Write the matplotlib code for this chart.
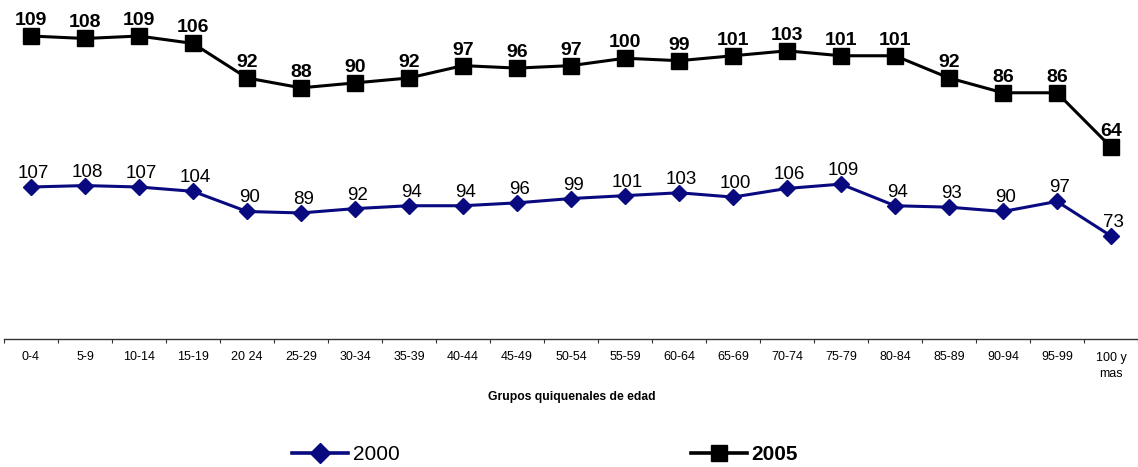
import matplotlib
matplotlib.use("Agg")
import matplotlib.pyplot as plt
from matplotlib.lines import Line2D

categories = ["0-4", "5-9", "10-14", "15-19", "20 24", "25-29", "30-34", "35-39",
              "40-44", "45-49", "50-54", "55-59", "60-64", "65-69", "70-74", "75-79",
              "80-84", "85-89", "90-94", "95-99", "100 y\nmas"]
values_2000 = [107, 108, 107, 104, 90, 89, 92, 94, 94, 96, 99, 101, 103, 100, 106, 109,
               94, 93, 90, 97, 73]
values_2005 = [109, 108, 109, 106, 92, 88, 90, 92, 97, 96, 97, 100, 99, 101, 103, 101,
               101, 92, 86, 86, 64]
x_label = "Grupos quiquenales de edad"
series_names = ["2000", "2005"]

plt.rcParams['font.family'] = ['Liberation Sans', 'DejaVu Sans']

W, H = 1138, 467
fig = plt.figure(figsize=(W / 100, H / 100), dpi=100)
ax = fig.add_axes([4 / W, 1 - 339 / H, 1 - 4 / W, 339 / H])
ax2 = ax.twinx()

blue = '#0a0a80'
x = list(range(len(categories)))

ax.plot(x, values_2000, color=blue, lw=2.2, marker='D', ms=8, mfc=blue, mec=blue, zorder=3)
ax2.plot(x, values_2005, color='black', lw=2.2, marker='s', ms=11, mfc='black', mec='black', zorder=3)

for xi, v in zip(x, values_2000):
    ax.annotate(str(v), (xi, v), xytext=(1.5, 6.5), textcoords='offset points',
                ha='center', va='baseline', fontsize=13.5, color='black')
for xi, v in zip(x, values_2005):
    ax2.annotate(str(v), (xi, v), xytext=(0, 8), textcoords='offset points',
                 ha='center', va='baseline', fontsize=14, fontweight='bold', color='black')

ax.set_xlim(-0.5, len(categories) - 0.5)
ax.set_ylim(1.5, 236.8)
ax2.set_ylim(-13.8, 123.6)

for a in (ax, ax2):
    for s in ('top', 'right', 'left'):
        a.spines[s].set_visible(False)
    a.set_yticks([])
ax2.spines['bottom'].set_visible(False)
ax.spines['bottom'].set_color('#333333')
ax.spines['bottom'].set_linewidth(1)

ax.set_xticks([i - 0.5 for i in range(len(categories) + 1)])
ax.set_xticklabels([])
ax.tick_params(axis='x', which='major', length=3, color='#333333', direction='out')
ax.set_xticks(x, minor=True)
ax.set_xticklabels(categories, minor=True, fontsize=9)
ax.tick_params(axis='x', which='minor', length=0, pad=9)
for t in ax.get_xticklabels(minor=True):
    t.set_linespacing(1.45)

fig.text(572 / W, 1 - 397 / H, x_label, ha='center', va='center', fontsize=8.7, fontweight='bold')

handles = [Line2D([], [], color=blue, lw=2.6, marker='D', ms=10),
           Line2D([], [], color='black', lw=2.6, marker='s', ms=12)]
leg = fig.legend(handles, series_names, loc='center', bbox_to_anchor=(545 / W, 1 - 455 / H),
                 ncol=2, frameon=False, fontsize=15, handlelength=2.7, handletextpad=0.2,
                 columnspacing=14.0, borderpad=0, borderaxespad=0)
leg.get_texts()[1].set_fontweight('bold')

fig.savefig("out.png", dpi=100)
